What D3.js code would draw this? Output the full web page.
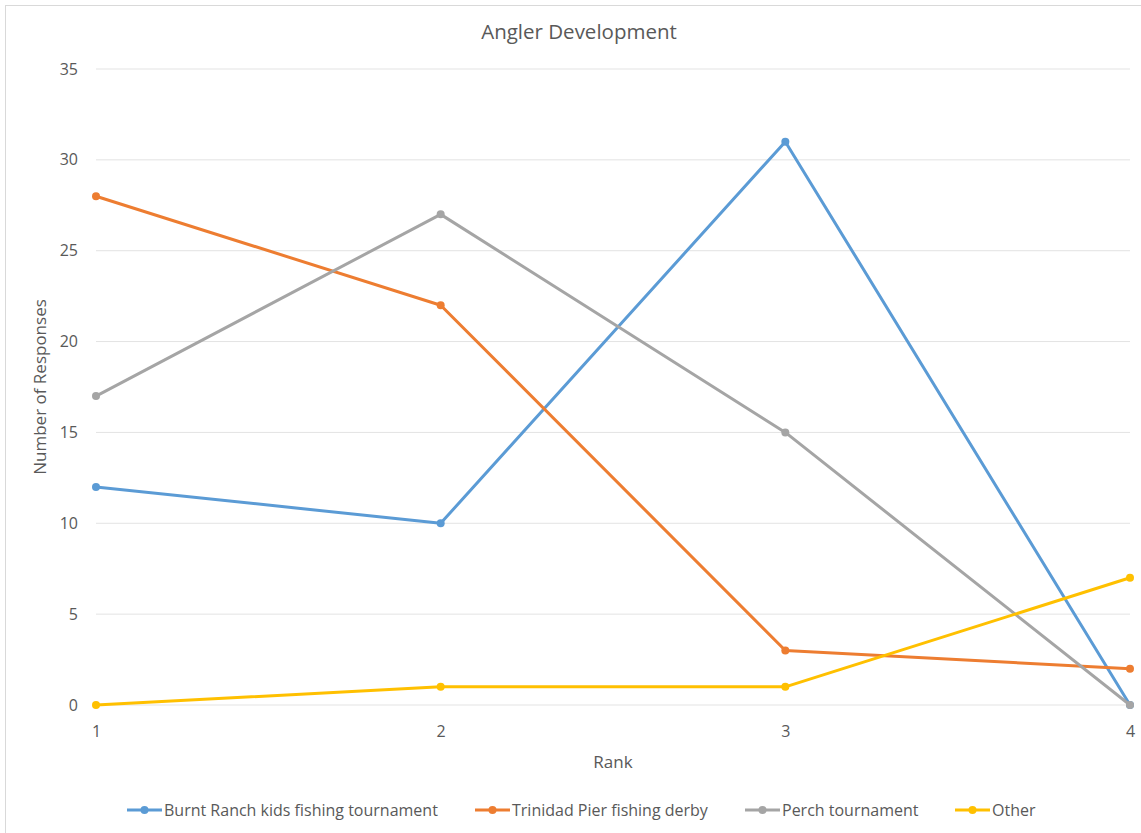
<!DOCTYPE html>
<html>
<head>
<meta charset="utf-8">
<script src="https://cdn.jsdelivr.net/npm/d3@7"></script>
<style>
  body { margin: 0; background: #fff; }
  text { font-family: 'Open Sans', sans-serif; fill: #595959; }
</style>
</head>
<body>
<div id="grafica"></div>
<script>
// datos
ranks = [1, 2, 3, 4]
series_names = ['Burnt Ranch kids fishing tournament', 'Trinidad Pier fishing derby', 'Perch tournament', 'Other']
burnt = [12, 10, 31, 0]
trinidad = [28, 22, 3, 2]
perch = [17, 27, 15, 0]
other = [0, 1, 1, 7]
y_ticks = [0, 5, 10, 15, 20, 25, 30, 35]
colores = ['#5B9BD5', '#ED7D31', '#A5A5A5', '#FFC000']

ancho_total = 1141
alto_total = 833
margin = { left: 96, right: 11, top: 69, bottom: 128 }
ancho = ancho_total - margin.left - margin.right
alto = alto_total - margin.top - margin.bottom

svg = d3.select('#grafica')
        .append('svg')
        .attr('width', ancho_total)
        .attr('height', alto_total)

// borde del area del grafico
svg.append('rect')
   .attr('x', 5.5).attr('y', 5.5)
   .attr('width', ancho_total - 4).attr('height', alto_total - 4)
   .attr('fill', 'none')
   .attr('stroke', '#d9d9d9')

g = svg.append('g')
       .attr('transform', `translate(${margin.left}, ${margin.top})`)

x = d3.scaleLinear().domain([1, 4]).range([0, ancho])
y = d3.scaleLinear().domain([0, 35]).range([alto, 0])

// lineas de cuadricula
g.selectAll('.grid')
 .data(y_ticks)
 .enter()
 .append('line')
   .attr('x1', 0).attr('x2', ancho)
   .attr('y1', (d) => y(d)).attr('y2', (d) => y(d))
   .attr('stroke', '#e3e3e3')
   .attr('stroke-width', 1)

yAxisCall = d3.axisLeft(y).tickValues(y_ticks).tickSize(0).tickPadding(18)
yGroup = g.append('g').call(yAxisCall)
yGroup.select('.domain').remove()
yGroup.selectAll('text').attr('font-size', '16px').attr('fill', '#595959')
      .attr('font-family', "'Open Sans', sans-serif")

xAxisCall = d3.axisBottom(x).tickValues(ranks).tickFormat(d3.format('d')).tickSize(0).tickPadding(21)
xGroup = g.append('g').attr('transform', `translate(0, ${alto})`).call(xAxisCall)
xGroup.select('.domain').remove()
xGroup.selectAll('text').attr('font-size', '16px').attr('fill', '#595959')
      .attr('font-family', "'Open Sans', sans-serif")

datos = [burnt, trinidad, perch, other]

linea = d3.line()
          .x((d, i) => x(ranks[i]))
          .y((d) => y(d))

datos.forEach((serie, k) => {
  g.append('path')
   .datum(serie)
   .attr('d', linea)
   .attr('fill', 'none')
   .attr('stroke', colores[k])
   .attr('stroke-width', 3)
   .attr('stroke-linejoin', 'round')
  g.selectAll('.p' + k)
   .data(serie)
   .enter()
   .append('circle')
     .attr('cx', (d, i) => x(ranks[i]))
     .attr('cy', (d) => y(d))
     .attr('r', 4)
     .attr('fill', colores[k])
})

// titulo
svg.append('text')
   .attr('x', 579).attr('y', 39)
   .attr('text-anchor', 'middle')
   .attr('font-size', '20.5px')
   .text('Angler Development')

// etiquetas de ejes
svg.append('text')
   .attr('x', 613).attr('y', 768)
   .attr('text-anchor', 'middle')
   .attr('font-size', '17px')
   .text('Rank')

svg.append('text')
   .attr('transform', 'translate(46, 387) rotate(-90)')
   .attr('text-anchor', 'middle')
   .attr('font-size', '17px')
   .text('Number of Responses')

// leyenda
leg_x = [127, 475, 745, 955]
leyenda = svg.selectAll('.leg')
             .data(series_names)
             .enter()
             .append('g')
             .attr('transform', (d, i) => `translate(${leg_x[i]}, 810)`)
leyenda.append('line')
       .attr('x1', 0).attr('x2', 35)
       .attr('stroke', (d, i) => colores[i])
       .attr('stroke-width', 3)
leyenda.append('circle')
       .attr('cx', 17.5).attr('r', 4)
       .attr('fill', (d, i) => colores[i])
leyenda.append('text')
       .attr('x', 37).attr('dy', '0.35em')
       .attr('font-size', '16px')
       .text((d) => d)
</script>
</body>
</html>
